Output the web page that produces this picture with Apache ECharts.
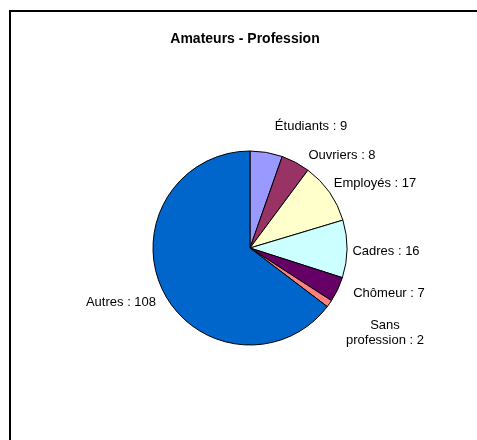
<!DOCTYPE html>
<html>
<head>
<meta charset="utf-8">
<script src="https://cdn.jsdelivr.net/npm/echarts@6/dist/echarts.min.js"></script>
<style>
html,body{margin:0;padding:0;background:#fff;overflow:hidden;}
#c{width:477px;height:440px;}
</style>
</head>
<body>
<div id="c"></div>
<script>
const categories = ['Étudiants', 'Ouvriers', 'Employés', 'Cadres', 'Chômeur', 'Sans\nprofession', 'Autres'];
const values = [9, 8, 17, 16, 7, 2, 108];
const colors = ['#9999FF', '#993366', '#FFFFCC', '#CCFFFF', '#660066', '#FF8080', '#0066CC'];
const titleText = 'Amateurs - Profession';

// label anchor positions (centers), matching the reference placement
const labelCenters = [[311, 126], [342, 155], [375, 183], [386, 251], [389, 293], [385, 333], [121, 302]];

const chart = echarts.init(document.getElementById('c'), null, {renderer: 'canvas'});
chart.setOption({
  backgroundColor: '#fff',
  animation: false,
  title: {
    text: titleText,
    left: 245,
    top: 32,
    textAlign: 'center',
    padding: 0,
    textStyle: {fontFamily: 'Liberation Sans, Arial, sans-serif', fontWeight: 'bold', fontSize: 14, color: '#000'}
  },
  graphic: [{
    type: 'line',
    shape: {x1: 9, y1: 11, x2: 477, y2: 11},
    style: {stroke: '#000', lineWidth: 2},
    silent: true
  }, {
    type: 'line',
    shape: {x1: 10, y1: 10, x2: 10, y2: 440},
    style: {stroke: '#000', lineWidth: 2},
    silent: true
  }],
  series: [{
    type: 'pie',
    center: [250, 248],
    radius: [0, 97],
    startAngle: 90,
    clockwise: true,
    avoidLabelOverlap: false,
    itemStyle: {borderColor: '#000', borderWidth: 1},
    label: {
      show: true,
      position: 'outside',
      formatter: '{b} : {c}',
      fontFamily: 'Liberation Sans, Arial, sans-serif',
      fontSize: 13,
      lineHeight: 15,
      color: '#000',
      align: 'center'
    },
    labelLine: {show: false},
    labelLayout: function (p) {
      const c = labelCenters[p.dataIndex];
      return {x: c[0], y: c[1], align: 'center', verticalAlign: 'middle'};
    },
    emphasis: {disabled: true},
    data: categories.map((n, i) => ({name: n, value: values[i], itemStyle: {color: colors[i]}}))
  }]
});
</script>
</body>
</html>
